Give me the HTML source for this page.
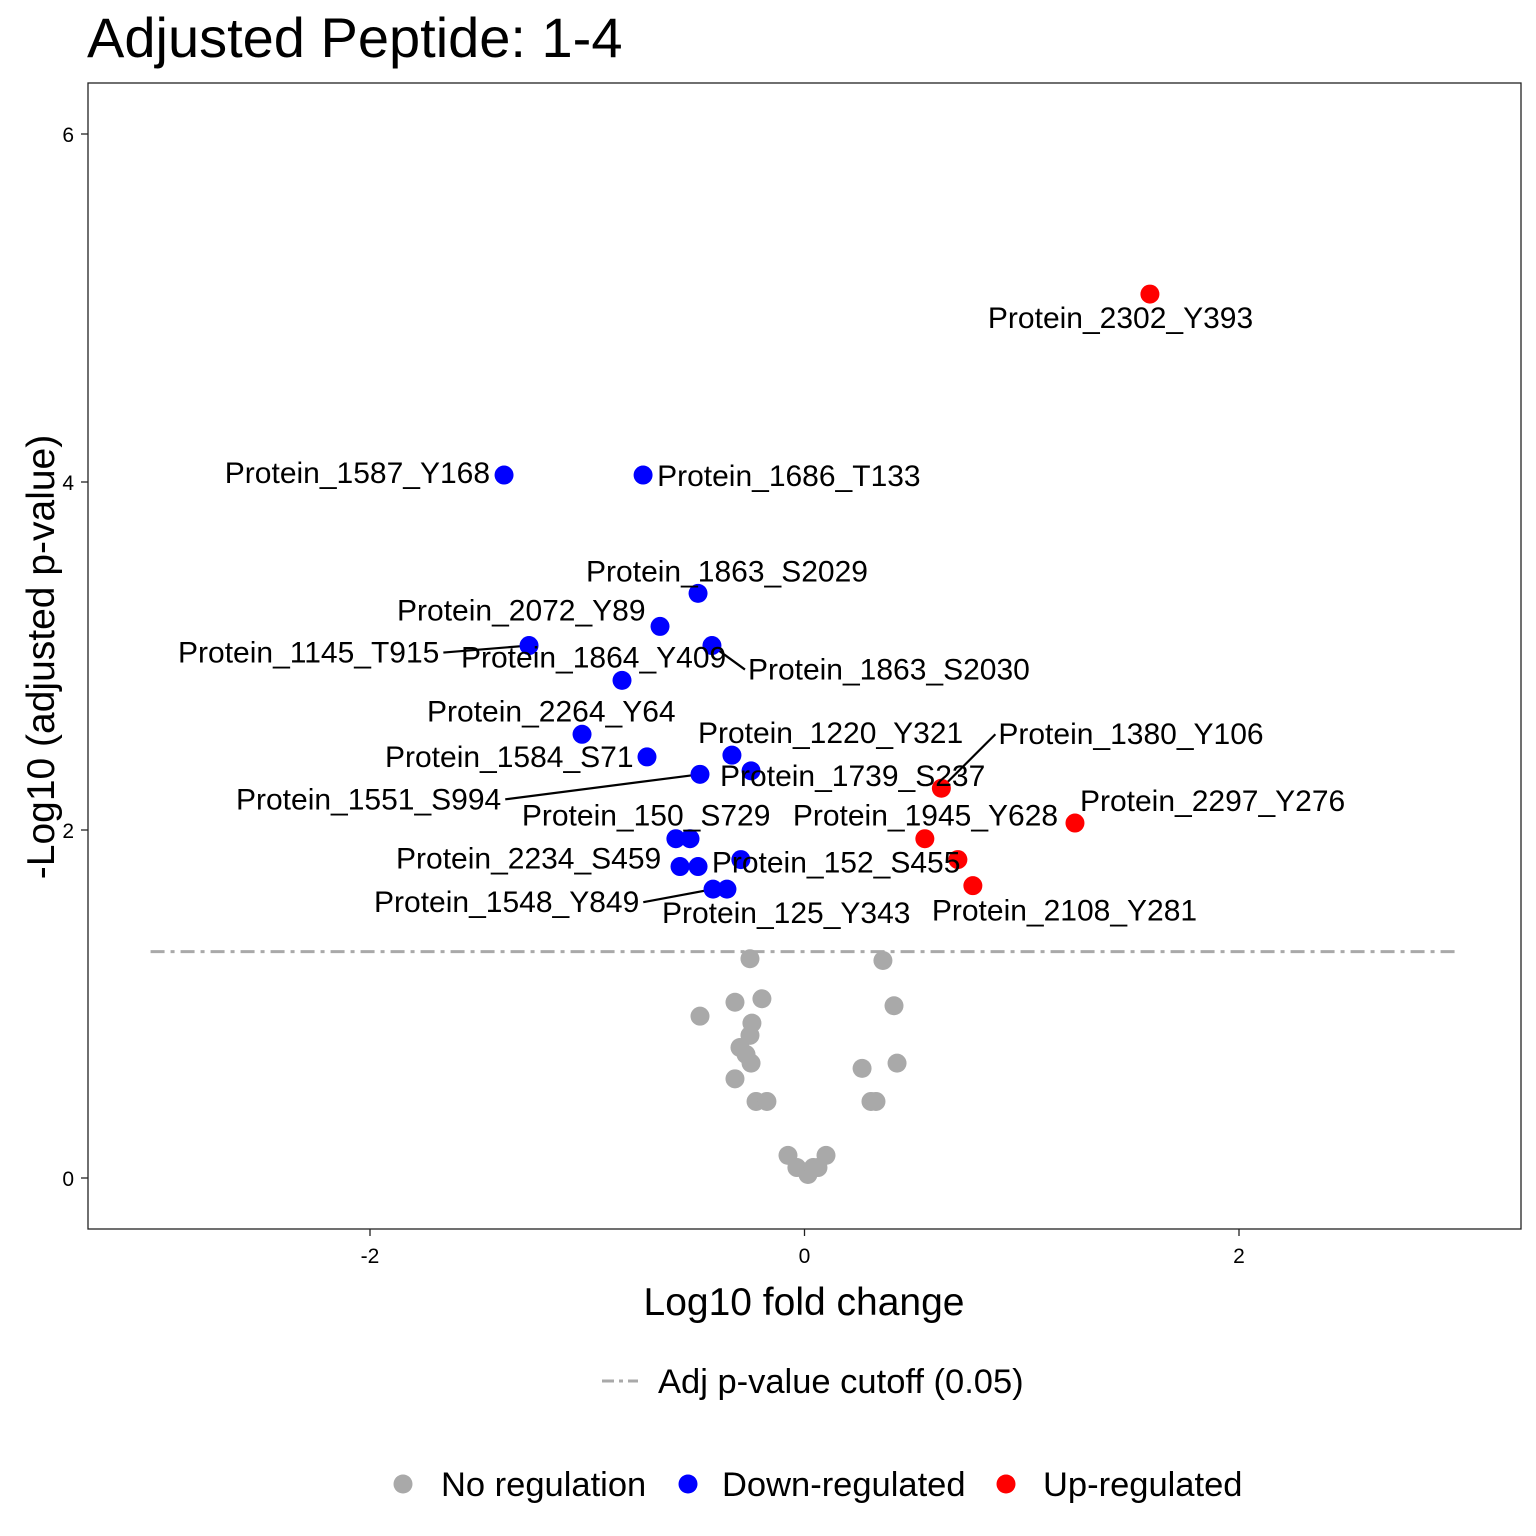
<!DOCTYPE html>
<html><head><meta charset="utf-8"><style>
html,body{margin:0;padding:0;background:#fff;}
svg{display:block;font-family:"Liberation Sans",Arial,sans-serif;}
</style></head><body>
<svg id="chart" width="1536" height="1536" viewBox="0 0 1536 1536" xmlns="http://www.w3.org/2000/svg">
<text x="87" y="57" font-size="56">Adjusted Peptide: 1-4</text>
<rect x="88" y="83" width="1433" height="1146" fill="none" stroke="#222" stroke-width="1.3"/>
<g id="axes"></g>
<g id="cutoff"></g>
<g id="segs"></g>
<g id="pts"></g>
<g id="labels"></g>
<text x="804" y="1315" font-size="39" text-anchor="middle">Log10 fold change</text>
<text transform="translate(54,657) rotate(-90)" font-size="39" text-anchor="middle">-Log10 (adjusted p-value)</text>
<g>
<line x1="602" y1="1381" x2="638" y2="1381" stroke="#A9A9A9" stroke-width="3" stroke-dasharray="12,5,4,5"/>
<text x="658" y="1393" font-size="34.5">Adj p-value cutoff (0.05)</text>
</g>
<g>
<circle cx="403" cy="1484" r="9.5" fill="#A9A9A9"/><text x="441" y="1496" font-size="34.5">No regulation</text>
<circle cx="688" cy="1484" r="9.5" fill="#0000FF"/><text x="722" y="1496" font-size="34.5">Down-regulated</text>
<circle cx="1006" cy="1484" r="9.5" fill="#FF0000"/><text x="1043" y="1496" font-size="34.5">Up-regulated</text>
</g>
</svg>
<script>
const xTicks=[-2,0,2];
const yTicks=[0,2,4,6];
const cutoffY=1.301;
const cutoffRange=[-3.01,3.01];
const greyX=[-0.251,0.361,-0.320,-0.196,0.412,-0.481,-0.242,-0.251,-0.297,-0.269,-0.246,-0.320,0.265,0.426,-0.223,-0.173,0.306,0.329,-0.076,0.099,-0.035,0.062,0.016,0.040];
const greyY=[1.26,1.25,1.01,1.03,0.99,0.93,0.89,0.82,0.75,0.71,0.66,0.57,0.63,0.66,0.44,0.44,0.44,0.44,0.13,0.13,0.06,0.06,0.02,0.06];
const blueX=[-1.383,-0.743,-0.490,-0.665,-1.268,-0.426,-0.840,-1.024,-0.725,-0.334,-0.246,-0.481,-0.592,-0.527,-0.573,-0.490,-0.293,-0.421,-0.357];
const blueY=[4.04,4.04,3.36,3.17,3.06,3.06,2.86,2.55,2.42,2.43,2.34,2.32,1.95,1.95,1.79,1.79,1.83,1.66,1.66];
const redX=[1.59,0.63,1.245,0.554,0.706,0.775];
const redY=[5.08,2.24,2.04,1.95,1.83,1.68];
// label placements (pixel offsets from point, styling): [text, pointIndex, series, dx, dy, anchor, seg]
const labelLayout=[
["Protein_2302_Y393",0,"r",-162,24,"start",0],
["Protein_1587_Y168",0,"b",-14,-2,"end",0],
["Protein_1686_T133",1,"b",14,1,"start",0],
["Protein_1863_S2029",2,"b",-112,-22,"start",0],
["Protein_2072_Y89",3,"b",-263,-16,"start",0],
["Protein_1145_T915",4,"b",-351,7,"start",1],
["Protein_1864_Y409",6,"b",-161,-23,"start",0],
["Protein_1863_S2030",5,"b",36,24,"start",1],
["Protein_2264_Y64",7,"b",-155,-23,"start",0],
["Protein_1220_Y321",9,"b",-34,-22,"start",0],
["Protein_1380_Y106",1,"r",57,-54,"start",1],
["Protein_1584_S71",8,"b",-262,0,"start",0],
["Protein_1739_S237",10,"b",-31,5,"start",0],
["Protein_1551_S994",11,"b",-464,25,"start",1],
["Protein_150_S729",12,"b",-154,-23,"start",0],
["Protein_1945_Y628",3,"r",-132,-23,"start",0],
["Protein_2297_Y276",2,"r",5,-22,"start",0],
["Protein_2234_S459",14,"b",-284,-8,"start",0],
["Protein_152_S455",16,"b",-29,3,"start",0],
["Protein_1548_Y849",17,"b",-339,13,"start",1],
["Protein_125_Y343",18,"b",-65,24,"start",0],
["Protein_2108_Y281",5,"r",-41,25,"start",0]
];
const NS="http://www.w3.org/2000/svg";
const X=v=>804.5+v*217.25, Y=v=>1178-v*174;
function mk(tag,attrs,parent){const e=document.createElementNS(NS,tag);for(const k in attrs)e.setAttribute(k,attrs[k]);parent.appendChild(e);return e;}
const axes=document.getElementById('axes');
xTicks.forEach(t=>{
 const l=mk('line',{x1:X(t),x2:X(t),y1:1229,y2:1236,stroke:'#222','stroke-width':1.3},axes);
 
 
 const tx=mk('text',{x:X(t),y:1263,'font-size':21,'text-anchor':'middle',fill:'#000'},axes);
 
 
 tx.textContent=t;
});
yTicks.forEach(t=>{
 const l=mk('line',{x1:81,x2:88,y1:Y(t),y2:Y(t),stroke:'#222','stroke-width':1.3},axes);
 
 
 const tx=mk('text',{x:74,y:Y(t)+8,'font-size':21,'text-anchor':'end',fill:'#000'},axes);
 
 
 tx.textContent=t;
});
const cl=mk('line',{x1:X(cutoffRange[0]),x2:X(cutoffRange[1]),y1:Y(cutoffY),y2:Y(cutoffY),stroke:'#A9A9A9','stroke-width':3,'stroke-dasharray':'14,6,4,6'},document.getElementById('cutoff'));


const pts=document.getElementById('pts');
function drawPts(xs,ys,col,name){xs.forEach((v,i)=>{const c=mk('circle',{cx:X(v),cy:Y(ys[i]),r:9.5,fill:col},pts);
 
 });}
drawPts(greyX,greyY,'#A9A9A9','point-no-regulation');
drawPts(blueX,blueY,'#0000FF','point-down-regulated');
drawPts(redX,redY,'#FF0000','point-up-regulated');
const lab=document.getElementById('labels'),segs=document.getElementById('segs');
labelLayout.forEach(L=>{
 const xs=L[2]==='r'?redX:blueX, ys=L[2]==='r'?redY:blueY;
 const px=X(xs[L[1]]), py=Y(ys[L[1]]);
 const tx=px+L[3], ty=py+L[4];
 const t=mk('text',{x:tx,y:ty+10,'font-size':30,'text-anchor':L[5],fill:'#000'},lab);
 
 
 t.textContent=L[0];
 if(L[6]){
  let ex;
  if(L[3]<0){ ex=tx+t.getComputedTextLength()+4; } else { ex=tx-3; }
  const s=mk('line',{x1:px,y1:py,x2:ex,y2:ty,stroke:'#000','stroke-width':2.2},segs);
  
  
 }
});
</script>
</body></html>
